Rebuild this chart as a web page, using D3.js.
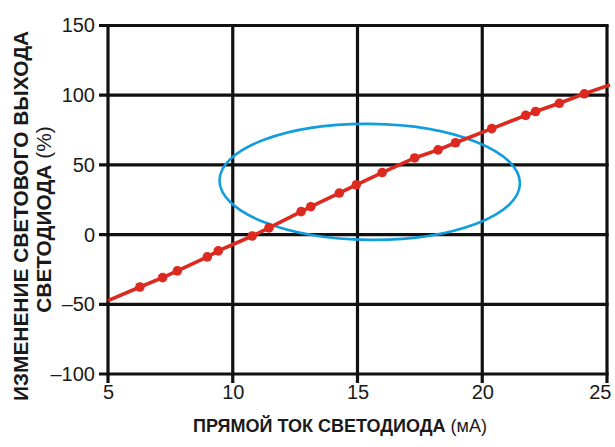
<!DOCTYPE html>
<html><head><meta charset="utf-8">
<script src="https://cdn.jsdelivr.net/npm/d3@7"></script>
<style>
html,body{margin:0;padding:0;background:#fff;}
svg{display:block;font-family:"Liberation Sans",Arial,sans-serif;}
</style></head>
<body><svg id="c" width="615" height="447"></svg>
<script>
// Data
const xTicks = [5, 10, 15, 20, 25];
const yTicks = [-100, -50, 0, 50, 100, 150];
const currentMA = [6.28, 7.19, 7.78, 8.98, 9.42, 10.78, 11.45, 12.74, 13.13, 14.27, 14.95, 15.99, 17.29, 18.23, 18.93, 20.38, 21.74, 22.14, 23.09, 24.09];
const outputChange = [-37.6, -30.9, -26, -16, -11.7, -1, 4.8, 16.5, 20, 29.8, 35.7, 44.5, 55, 60.8, 65.9, 76, 85.5, 88.3, 94.2, 101];
const lineStart = [5, -47.4];
const lineEnd = [25.12, 107.4];
const ellipseCenter = [15.49, 37.8];
const ellipseRadii = [6.02, 41.6];
const xTitle = "ПРЯМОЙ ТОК СВЕТОДИОДА";
const xUnit = " (мА)";
const yTitle1 = "ИЗМЕНЕНИЕ СВЕТОВОГО ВЫХОДА";
const yTitle2 = "СВЕТОДИОДА";
const yUnit = " (%)";

const svg = d3.select("#c");
const x = d3.scaleLinear().domain([5, 25]).range([108, 607]);
const y = d3.scaleLinear().domain([-100, 150]).range([374, 25.5]);
const ink = "#111";
const sw = 3.2;

// grid (vertical)
svg.append("g").selectAll("line").data(xTicks).join("line")
  .attr("x1", d => x(d)).attr("x2", d => x(d))
  .attr("y1", y(150)).attr("y2", y(-100) + 9)
  .attr("stroke", ink).attr("stroke-width", sw);
// grid (horizontal)
svg.append("g").selectAll("line").data(yTicks).join("line")
  .attr("x1", x(5) - 9).attr("x2", x(25) + sw/2)
  .attr("y1", d => y(d)).attr("y2", d => y(d))
  .attr("stroke", ink).attr("stroke-width", sw);

// axes labels via d3 axes (lines hidden)
const xa = svg.append("g").attr("transform", `translate(0,${y(-100)})`)
  .call(d3.axisBottom(x).tickValues(xTicks).tickSize(0).tickPadding(11).tickFormat(d3.format("d")));
const ya = svg.append("g").attr("transform", `translate(${x(5)},0)`)
  .call(d3.axisLeft(y).tickValues(yTicks).tickSize(0).tickPadding(13).tickFormat(d => d < 0 ? "\u2013" + Math.abs(d) : d));
[xa, ya].forEach(g => {
  g.select(".domain").remove();
  g.selectAll("text").attr("font-size", 20).attr("fill", "#1a1a1a")
    .attr("font-family", "'Liberation Sans', Arial, sans-serif");
});
// keep last x label inside the page
xa.selectAll(".tick").filter(d => d === 25).select("text").attr("text-anchor", "end").attr("dx", 4);

// ellipse
const ecx = x(ellipseCenter[0]), ecy = y(ellipseCenter[1]);
svg.append("ellipse")
  .attr("cx", ecx).attr("cy", ecy)
  .attr("rx", x(ellipseCenter[0] + ellipseRadii[0]) - ecx)
  .attr("ry", ecy - y(ellipseCenter[1] + ellipseRadii[1]))
  .attr("transform", `rotate(0.6,${ecx},${ecy})`)
  .attr("fill", "none").attr("stroke", "#139ddd").attr("stroke-width", 2.6);

// red line
const pts = [lineStart].concat(currentMA.map((d, i) => [d, outputChange[i]])).concat([lineEnd]);
svg.append("path").datum(pts)
  .attr("d", d3.line().x(d => x(d[0])).y(d => y(d[1])))
  .attr("fill", "none").attr("stroke", "#dc2a20").attr("stroke-width", 3.6);
svg.append("g").selectAll("circle").data(currentMA).join("circle")
  .attr("cx", d => x(d)).attr("cy", (d, i) => y(outputChange[i])).attr("r", 4.8)
  .attr("fill", "#dc2a20");

// x title
const xt = svg.append("text").attr("x", 340).attr("y", 432).attr("text-anchor", "middle")
  .attr("font-size", 18).attr("fill", "#1a1a1a");
xt.append("tspan").attr("font-weight", "bold").text(xTitle);
xt.append("tspan").text(xUnit);

// y title
svg.append("text").attr("transform", "translate(27.5,216) rotate(-90)")
  .attr("text-anchor", "middle").attr("font-size", 20.9).attr("font-weight", "bold").attr("fill", "#1a1a1a")
  .text(yTitle1);
const yt2 = svg.append("text").attr("transform", "translate(50.5,219.5) rotate(-90)")
  .attr("text-anchor", "middle").attr("font-size", 20.9).attr("fill", "#1a1a1a");
yt2.append("tspan").attr("font-weight", "bold").text(yTitle2);
yt2.append("tspan").text(yUnit);
</script></body></html>
